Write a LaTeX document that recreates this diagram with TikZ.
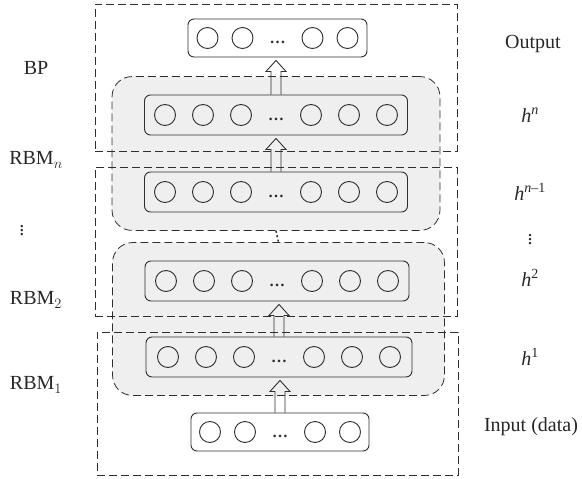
\documentclass[tikz,border=0pt]{standalone}
\usepackage{fontspec}
\setmainfont{Liberation Serif}
\usetikzlibrary{positioning,fit,backgrounds,calc}
\definecolor{linegray}{HTML}{2E2E2E}
\definecolor{shade}{HTML}{EFEFEF}
\tikzset{
  layer/.style={rectangle,rounded corners=6pt,draw=linegray,line width=0.9pt,
                minimum height=40pt,inner sep=0pt},
  unit/.style={circle,draw=linegray,line width=0.9pt,minimum size=21pt,
               inner sep=0pt},
  dots/.style={font=\fontsize{16}{16}\selectfont\bfseries,inner sep=0pt,
               anchor=base,text=linegray},
  dbox/.style={rectangle,draw=linegray,line width=0.8pt,
               dash pattern=on 8pt off 4pt,inner sep=0pt},
  grp/.style={rectangle,rounded corners=20pt,draw=linegray,fill=shade,
              line width=0.8pt,dash pattern=on 8pt off 4pt,
              inner xsep=32pt,inner ysep=18pt},
  harr/.style={draw=linegray,line width=0.9pt,line join=miter},
  lbl/.style={font=\fontsize{20}{22}\selectfont,inner sep=0pt,text=black!85},
}
% hollow upward arrow from the top of #1 to the bottom of #2
\newcommand{\hollowup}[2]{%
  \draw[harr] ($(#1.north)+(-5,0)$) -- ($(#1.north |- #2.south)+(-5,14)$)
    -- ++(-5,0) -- ($(#1.north |- #2.south)+(0,3)$)
    -- ($(#1.north |- #2.south)+(10,14)$) -- ++(-5,0)
    -- ($(#1.north)+(5,0)$);}
\newcommand{\hlay}[1]{\textit{h}\textsuperscript{#1}}

\begin{document}
\begin{tikzpicture}[x=1pt,y=-1pt]
  \useasboundingbox (0,0) rectangle (582,479);

  %% -- layers ---------------------------------------------------------------
  \node[layer,minimum width=179pt,minimum height=38pt] (out) at (277.5,38) {};
  \node[layer,minimum width=263pt] (hn)  at (276,115) {};
  \node[layer,minimum width=263pt] (hn1) at (276,192) {};
  \node[layer,minimum width=264pt] (h2)  at (277,281) {};
  \node[layer,minimum width=266pt] (h1)  at (279,357) {};
  \node[layer,minimum width=178pt,minimum height=38pt] (in) at (280,432) {};

  %% -- units ----------------------------------------------------------------
  \foreach \L in {hn,hn1,h2,h1}{
    \foreach \dx [count=\i] in {-111,-73,-35,35,73,111}
      \node[unit] (\L-\i) at ($(\L.center)+(\dx,0)$) {};
    \node[dots] (\L-d) at ($(\L.center)+(0,5)$) {\dots};
  }
  \foreach \L in {out,in}{
    \foreach \dx [count=\i] in {-70,-35,35,70}
      \node[unit] (\L-\i) at ($(\L.center)+(\dx,0)$) {};
    \node[dots] (\L-d) at ($(\L.center)+(0,5)$) {\dots};
  }

  %% -- shaded RBM groups ----------------------------------------------------
  \begin{scope}[on background layer]
    \node[grp,fit=(hn)(hn1)] (g1) {};
    \node[grp,fit=(h2)(h1)]  (g2) {};
  \end{scope}
  \draw[linegray,line width=1.5pt,dash pattern=on 2pt off 2.5pt]
    (g1.south) -- (g2.north);

  %% -- dashed stage boxes ---------------------------------------------------
  \node[dbox,minimum width=362pt,minimum height=147pt] (bpbox)  at (276,77.5) {};
  \node[dbox,minimum width=362pt,minimum height=149pt] (rbmbox) at (276,241.5) {};
  \node[dbox,minimum width=361pt,minimum height=143pt] (inbox)  at (277.5,403.5) {};

  %% -- arrows ---------------------------------------------------------------
  \hollowup{hn}{out}
  \hollowup{hn1}{hn}
  \hollowup{h1}{h2}
  \hollowup{in}{h1}

  %% -- labels ---------------------------------------------------------------
  \node[lbl] (lout) at (533,44)  {Output};
  \node[lbl] (lhn)  at (530,115) {\hlay{\textit{n}}};
  \node[lbl] (lhn1) at (530,192) {\hlay{\textit{n}–1}};
  \node[lbl] (lvr)  at (530,237) {$\vdots$};
  \node[lbl] (lh2)  at (530,278) {\hlay{2}};
  \node[lbl] (lh1)  at (530,357) {\hlay{1}};
  \node[lbl] (lin)  at (531,427) {Input (data)};

  \node[lbl] (lbp)  at (36,68)  {BP};
  \node[lbl] (lrn)  at (36,160) {RBM$_n$};
  \node[lbl] (lvl)  at (22,228) {$\vdots$};
  \node[lbl] (lr2)  at (36,300) {RBM$_2$};
  \node[lbl] (lr1)  at (36,385) {RBM$_1$};
\end{tikzpicture}
\end{document}
